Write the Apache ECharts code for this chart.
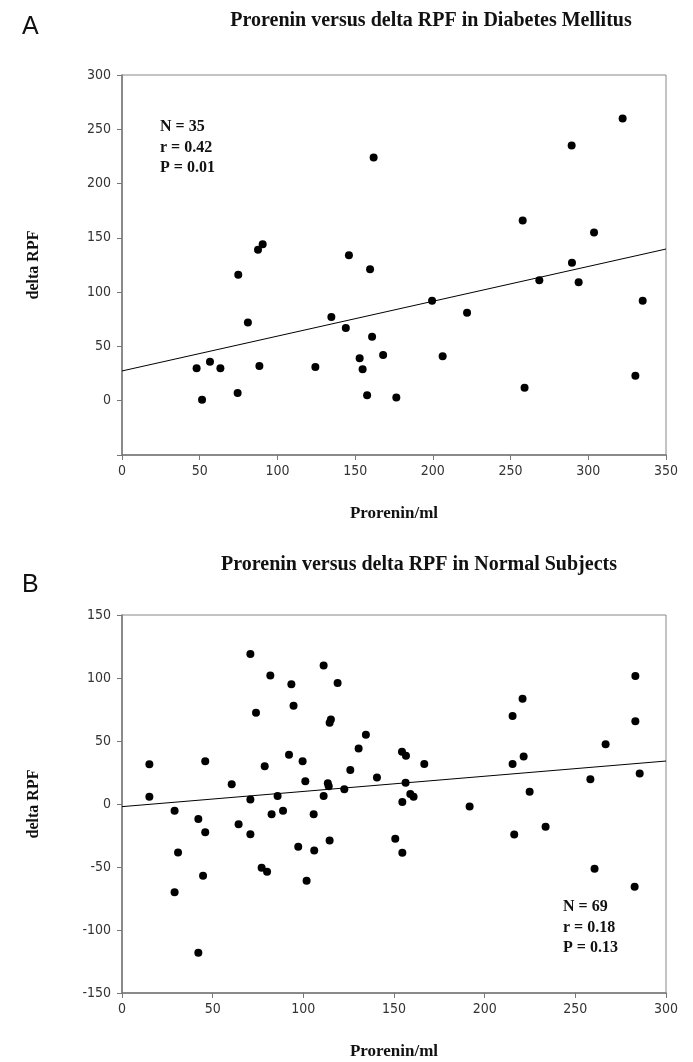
<!DOCTYPE html>
<html lang="en">
<head>
    <meta charset="UTF-8">
    <script src="https://cdn.jsdelivr.net/npm/echarts@6/dist/echarts.min.js"></script>
    <style>
        body, html {
            margin: 0;
            height: 100%;
            background: #fff;
        }

        #main {
            width: 693px;
            height: 1062px;
        }
    </style>
    <title>Prorenin versus delta RPF</title>
</head>
<body>

<div id="main"></div>
<script type="text/javascript">
    const myChart = echarts.init(document.getElementById('main'));

    // panel A: diabetes mellitus, [prorenin, delta RPF]
    const diabetesPoints = [
        [48, 30], [51.5, 1], [56.6, 36], [63.3, 30], [74.4, 7], [74.8, 116],
        [81, 72], [87.5, 139], [90.5, 144], [88.4, 32], [124.4, 31], [134.7, 77],
        [144, 67], [146, 134], [152.9, 39], [154.8, 29], [157.7, 5], [159.6, 121],
        [160.9, 59], [161.9, 224], [168, 42], [176.5, 3], [199.5, 92], [206.3, 41],
        [222, 81], [257.8, 166], [259, 12], [268.5, 111], [289.3, 235], [289.5, 127],
        [293.8, 109], [303.7, 155], [322.1, 260], [330.3, 23], [335, 92]
    ];
    const diabetesTrend = [[0, 27.4], [350, 139.7]];
    const diabetesStats = ['N = 35', 'r = 0.42', 'P = 0.01'];

    // panel B: normal subjects
    const normalPoints = [
        [70.8, 119], [111.2, 110], [81.8, 102], [93.4, 95], [118.9, 96], [94.6, 78],
        [73.9, 72.5], [115.2, 67], [114.5, 64.5], [134.5, 55], [130.5, 44], [92.1, 39],
        [99.6, 34], [78.7, 30], [45.9, 34], [15.1, 31.5], [125.9, 27], [140.6, 21],
        [60.5, 15.6], [101.1, 18], [113.5, 16.5], [114, 14], [122.6, 11.7], [15.1, 5.8],
        [85.8, 6.3], [70.8, 3.5], [111.2, 6.3], [29, -5.3], [42.1, -12], [45.9, -22.5],
        [64.3, -16], [70.8, -24], [82.5, -8.2], [88.8, -5.3], [105.7, -8.2], [114.5, -29],
        [97.2, -34], [106, -37], [30.9, -38.4], [77, -50.5], [80, -53.7], [44.7, -57],
        [101.8, -61], [29, -70], [42.1, -118], [283.1, 101.6], [220.9, 83.6], [215.4, 69.8],
        [283.1, 65.6], [266.7, 47.4], [154.4, 41.5], [156.6, 38.3], [166.7, 31.7], [221.5, 37.6],
        [215.4, 31.7], [156.4, 16.9], [285.5, 24.3], [258.3, 19.6], [159, 7.9], [160.8, 5.8],
        [154.6, 1.6], [191.7, -2], [224.8, 9.8], [150.7, -27.5], [154.6, -38.6], [216.3, -24.3],
        [233.6, -18], [260.6, -51.3], [282.7, -65.6]
    ];
    const normalTrend = [[0, -2.1], [300, 34.1]];
    const normalStats = ['N = 69', 'r = 0.18', 'P = 0.13'];

    const titles = [
        'Prorenin versus delta RPF in Diabetes Mellitus',
        'Prorenin versus delta RPF in Normal Subjects'
    ];
    const xName = 'Prorenin/ml';
    const yName = 'delta RPF';

    const serif = '"Liberation Serif", "Times New Roman", serif';
    const tickFont = '"DejaVu Sans Condensed", "Liberation Sans Narrow", "DejaVu Sans", sans-serif';

    function xAxisFor(gridIndex, max) {
        return {
            type: 'value', gridIndex: gridIndex, min: 0, max: max, interval: 50,
            name: xName, nameLocation: 'middle', nameGap: 50,
            nameTextStyle: {fontFamily: serif, fontWeight: 'bold', fontSize: 17, color: '#111'},
            axisLine: {onZero: false, lineStyle: {color: '#777', width: 1.5}},
            axisTick: {length: 5, lineStyle: {color: '#777'}},
            axisLabel: {fontFamily: tickFont, fontSize: 14, color: '#333', margin: 9},
            splitLine: {show: false}
        };
    }

    function yAxisFor(gridIndex, min, max, hideMin) {
        return {
            type: 'value', gridIndex: gridIndex, min: min, max: max, interval: 50,
            name: yName, nameLocation: 'middle', nameGap: 80,
            nameTextStyle: {fontFamily: serif, fontWeight: 'bold', fontSize: 16, color: '#111'},
            axisLine: {lineStyle: {color: '#777', width: 1.5}},
            axisTick: {length: 5, lineStyle: {color: '#777'}},
            axisLabel: {
                fontFamily: tickFont, fontSize: 14, color: '#333', margin: 11,
                formatter: function (v) { return (hideMin && v === min) ? '' : String(v); }
            },
            splitLine: {show: false}
        };
    }

    function statsText(lines, left, top) {
        return {
            type: 'text', left: left, top: top,
            style: {
                text: lines.join('\n'), font: 'bold 16px ' + serif,
                fill: '#111', lineHeight: 20.5
            }
        };
    }

    const dotStyle = {color: '#000', opacity: 1};
    const trendStyle = {color: '#000', width: 1};

    const option = {
        backgroundColor: '#fff',
        animation: false,
        title: [
            {text: titles[0], left: 426, top: 6, textAlign: 'center',
                textStyle: {fontFamily: serif, fontWeight: 'bold', fontSize: 20, color: '#111'}},
            {text: titles[1], left: 414, top: 550, textAlign: 'center',
                textStyle: {fontFamily: serif, fontWeight: 'bold', fontSize: 20, color: '#111'}},
            {text: 'A', left: 17, top: 10,
                textStyle: {fontFamily: '"Liberation Sans", Arial, sans-serif', fontWeight: 'normal', fontSize: 25, color: '#111'}},
            {text: 'B', left: 17, top: 568,
                textStyle: {fontFamily: '"Liberation Sans", Arial, sans-serif', fontWeight: 'normal', fontSize: 25, color: '#111'}}
        ],
        grid: [
            {left: 122, right: 27, top: 75, height: 380, show: true, borderColor: '#888', borderWidth: 1},
            {left: 122, right: 27, top: 615, height: 378, show: true, borderColor: '#888', borderWidth: 1}
        ],
        xAxis: [xAxisFor(0, 350), xAxisFor(1, 300)],
        yAxis: [yAxisFor(0, -50, 300, true), yAxisFor(1, -150, 150, false)],
        graphic: [
            statsText(diabetesStats, 160, 117),
            statsText(normalStats, 563, 897)
        ],
        series: [
            {type: 'line', xAxisIndex: 0, yAxisIndex: 0, data: diabetesTrend,
                symbol: 'none', lineStyle: trendStyle, z: 1},
            {type: 'scatter', xAxisIndex: 0, yAxisIndex: 0, data: diabetesPoints,
                symbolSize: 8, itemStyle: dotStyle, z: 2},
            {type: 'line', xAxisIndex: 1, yAxisIndex: 1, data: normalTrend,
                symbol: 'none', lineStyle: trendStyle, z: 1},
            {type: 'scatter', xAxisIndex: 1, yAxisIndex: 1, data: normalPoints,
                symbolSize: 8, itemStyle: dotStyle, z: 2}
        ]
    };
    myChart.setOption(option);

</script>
</body>
</html>
